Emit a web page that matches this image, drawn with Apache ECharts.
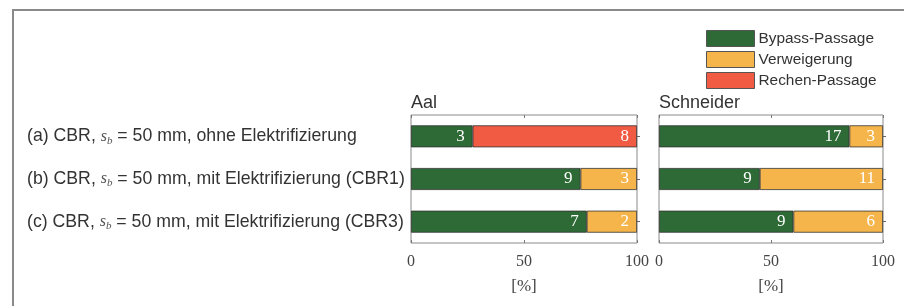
<!DOCTYPE html>
<html><head><meta charset="utf-8">
<script src="https://cdn.jsdelivr.net/npm/echarts@6/dist/echarts.min.js"></script>
<style>html,body{margin:0;padding:0;background:#fff}#c{width:904px;height:306px}</style>
</head><body><div id="c"></div>
<script>
const categories = ['(a) CBR, {s|s}{b|b} = 50 mm, ohne Elektrifizierung',
  '(b) CBR, {s|s}{b|b} = 50 mm, mit Elektrifizierung (CBR1)',
  '(c) CBR, {s|s}{b|b} = 50 mm, mit Elektrifizierung (CBR3)'];
const panelTitles = ['Aal', 'Schneider'];
const seriesNames = ['Bypass-Passage', 'Verweigerung', 'Rechen-Passage'];
const colors = ['#2e6a36', '#f6b54b', '#f15b43'];
// counts per row (a,b,c)
const aalBypass = [3, 9, 7];
const aalVerweigerung = [0, 3, 2];
const aalRechen = [8, 0, 0];
const schBypass = [17, 9, 9];
const schVerweigerung = [3, 11, 6];
const schRechen = [0, 0, 0];
const xTicks = [0, 50, 100];

const panels = [[aalBypass, aalVerweigerung, aalRechen], [schBypass, schVerweigerung, schRechen]];
const serif = '"Liberation Serif", "Times New Roman", serif';
const sans = '"Liberation Sans", Arial, sans-serif';

const chart = echarts.init(document.getElementById('c'), null, {renderer: 'canvas'});
const grids = [
  {left: 411, top: 115, width: 226, height: 128, show: true, borderColor: '#8a8a8a', borderWidth: 1},
  {left: 659, top: 115, width: 224, height: 128, show: true, borderColor: '#8a8a8a', borderWidth: 1}
];
const xAxes = [], yAxes = [], series = [];
panels.forEach((p, gi) => {
  xAxes.push({
    gridIndex: gi, type: 'value', min: 0, max: 100, interval: 50, position: 'bottom',
    name: '[%]', nameLocation: 'middle', nameGap: 35,
    nameTextStyle: {fontFamily: serif, fontSize: 17, color: '#444'},
    axisLine: {show: false}, splitLine: {show: false},
    axisTick: {show: true, inside: true, length: 3, lineStyle: {color: '#777'}},
    axisLabel: {fontFamily: serif, fontSize: 16, color: '#444', margin: 11,
      formatter: v => xTicks.includes(v) ? String(v) : ''}
  });
  xAxes.push({
    gridIndex: gi, type: 'value', min: 0, max: 100, interval: 50, position: 'top',
    axisLine: {show: false}, splitLine: {show: false}, axisLabel: {show: false},
    axisTick: {show: true, inside: true, length: 3, lineStyle: {color: '#777'}}
  });
  yAxes.push({
    gridIndex: gi, type: 'category', data: categories, inverse: true, position: 'left',
    axisLine: {show: false, onZero: false}, axisTick: {show: false},
    axisLabel: gi === 0 ? {
      show: true, align: 'left', margin: 384, fontFamily: sans, fontSize: 17.7, color: '#333',
      rich: {
        s: {fontFamily: serif, fontStyle: 'italic', fontSize: 16, color: '#555', lineHeight: 20},
        b: {fontFamily: serif, fontStyle: 'italic', fontSize: 11, color: '#555', lineHeight: 8, verticalAlign: 'bottom'}
      }
    } : {show: false}
  });
  yAxes.push({
    gridIndex: gi, type: 'category', data: categories, inverse: true, position: 'right', z: 10,
    axisLine: {show: false, onZero: false}, axisLabel: {show: false},
    axisTick: {show: true, inside: false, length: 3, alignWithLabel: true, interval: 0, lineStyle: {color: '#666', width: 1}}
  });
  const totals = p[0].map((_, i) => p.reduce((s, arr) => s + arr[i], 0));
  p.forEach((arr, si) => {
    series.push({
      name: seriesNames[si], type: 'bar', stack: 'p' + gi,
      xAxisIndex: gi * 2, yAxisIndex: gi * 2, barWidth: 22,
      itemStyle: {color: colors[si], borderColor: '#333', borderWidth: 0.8},
      label: {show: true, position: 'insideRight', distance: 8, color: '#fff',
        fontFamily: serif, fontSize: 17,
        formatter: prm => arr[prm.dataIndex] ? String(arr[prm.dataIndex]) : ''},
      data: arr.map((v, i) => v ? v / totals[i] * 100 : null)
    });
  });
});

chart.setOption({
  animation: false,
  backgroundColor: '#fff',
  title: panelTitles.map((t, i) => ({text: t, left: grids[i].left, top: 94, padding: 0,
    textStyle: {fontFamily: sans, fontSize: 18, fontWeight: 'normal', color: '#333'}})),
  legend: {
    orient: 'vertical', left: 706, top: 30, padding: 0, itemWidth: 48, itemHeight: 16, itemGap: 4,
    icon: 'rect', data: seriesNames, selectedMode: false,
    itemStyle: {borderColor: '#555', borderWidth: 1},
    textStyle: {fontFamily: sans, fontSize: 15.4, color: '#333', padding: [0, 0, 0, -1]}
  },
  grid: grids, xAxis: xAxes, yAxis: yAxes, series: series,
  graphic: [{type: 'polyline', shape: {points: [[13, 306], [13, 10], [904, 10]]},
    style: {stroke: '#8a8a8a', lineWidth: 2, fill: null}, silent: true}]
});
</script></body></html>
